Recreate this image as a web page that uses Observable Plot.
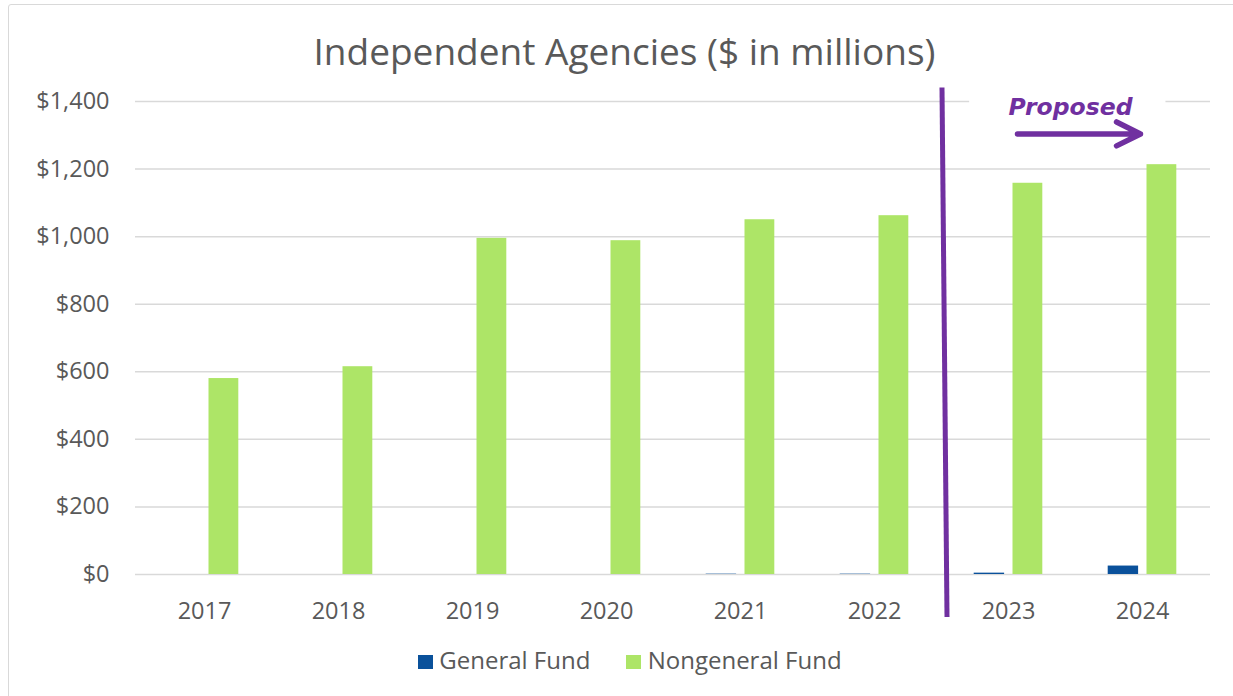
<!DOCTYPE html>
<html>
<head>
<meta charset="utf-8">
<script src="https://cdn.jsdelivr.net/npm/d3@7"></script>
<script src="https://cdn.jsdelivr.net/npm/@observablehq/plot@0.6"></script>
<style>
  body { margin: 0; background: #fff; width: 1233px; height: 696px; overflow: hidden; position: relative; font-family: "Open Sans", sans-serif; color: #595959; }
  #frame { position: absolute; left: 8px; top: 4px; width: 1300px; height: 800px; border: 1.5px solid #d9d9d9; border-radius: 3px; box-sizing: border-box; }
  #title { position: absolute; left: 0; width: 1249px; top: 32px; text-align: center; font-size: 37px; line-height: 37px; white-space: nowrap; }
  #chart { position: absolute; left: 0; top: 80px; }
  .lg-sw { position: absolute; width: 14.5px; height: 14.5px; top: 654.5px; }
  .lg-tx { position: absolute; top: 647.7px; font-size: 24px; line-height: 24px; white-space: nowrap; }
</style>
</head>
<body>
<div id="frame"></div>
<div id="title">Independent Agencies ($ in millions)</div>
<div id="chart"></div>
<div id="legend"></div>
<script>
const years = ["2017", "2018", "2019", "2020", "2021", "2022", "2023", "2024"];
const generalFund = [0, 0, 0, 0, 1, 1, 4, 25];
const nongeneralFund = [580, 615, 995, 988, 1050, 1062, 1158, 1213];
const yTicks = [0, 200, 400, 600, 800, 1000, 1200, 1400];
const seriesNames = ["General Fund", "Nongeneral Fund"];
const seriesColors = ["#0A519B", "#ADE567"];
const proposedLabel = "Proposed";

const table = years.map((year, i) => ({year, general: generalFund[i], nongeneral: nongeneralFund[i]}));

function annotations(index, scales) {
  const x = scales.x, y = scales.y;
  const xb = x("2023");
  const bw = x.bandwidth ? x.bandwidth() : (x("2024") - x("2023"));
  const g = d3.create("svg:g");
  g.append("rect")
    .attr("x", xb + bw * 0.21).attr("width", bw * 1.465)
    .attr("y", y(1445)).attr("height", y(1340) - y(1445))
    .attr("fill", "white");
  g.append("line")
    .attr("x1", xb + 1).attr("x2", xb + 6)
    .attr("y1", y(1440)).attr("y2", y(-127))
    .attr("stroke", "#7030A0").attr("stroke-width", 5);
  return g.node();
}

const chart = Plot.plot({
  width: 1233,
  height: 540,
  marginLeft: 135,
  marginRight: 23,
  marginTop: 21,
  marginBottom: 46,
  style: {fontFamily: "Open Sans", fontSize: "23.5px", color: "#595959", background: "transparent", overflow: "visible"},
  x: {domain: years, padding: 0, label: null},
  y: {domain: [0, 1400], label: null},
  marks: [
    Plot.ruleY(yTicks, {stroke: "#d9d9d9", strokeWidth: 1.5}),
    Plot.axisY(yTicks, {tickSize: 0, tickPadding: 26, tickFormat: d => "$" + d3.format(",")(d), fill: "#595959"}),
    Plot.axisX({tickSize: 0, tickPadding: 27.5, fill: "#595959"}),
    Plot.barY(table, {x: "year", y: "general", fill: seriesColors[0], insetLeft: 32.7, insetRight: 70.9}),
    Plot.barY(table, {x: "year", y: "nongeneral", fill: seriesColors[1], insetLeft: 71.5, insetRight: 32.7}),
    annotations,
    Plot.text([proposedLabel], {x: () => "2023", y: () => 1383, text: d => d, textAnchor: "start", fill: "#7030A0",
      fontFamily: "DejaVu Sans", fontWeight: "bold", fontStyle: "italic", fontSize: 23.5}),
    Plot.arrow([0], {x1: () => "2023", x2: () => "2024", y1: () => 1304, y2: () => 1304, stroke: "#7030A0",
      strokeWidth: 5.5, headLength: 7.3, headAngle: 53, insetStart: 9, insetEnd: 2})
  ]
});
document.getElementById("chart").appendChild(chart);

const legend = document.getElementById("legend");
const swX = [418, 626];
const txX = [439.3, 647.7];
seriesNames.forEach((name, i) => {
  const sw = document.createElement("div");
  sw.className = "lg-sw";
  sw.style.left = swX[i] + "px";
  sw.style.background = seriesColors[i];
  legend.appendChild(sw);
  const tx = document.createElement("div");
  tx.className = "lg-tx";
  tx.style.left = txX[i] + "px";
  tx.textContent = name;
  legend.appendChild(tx);
});
</script>
</body>
</html>
